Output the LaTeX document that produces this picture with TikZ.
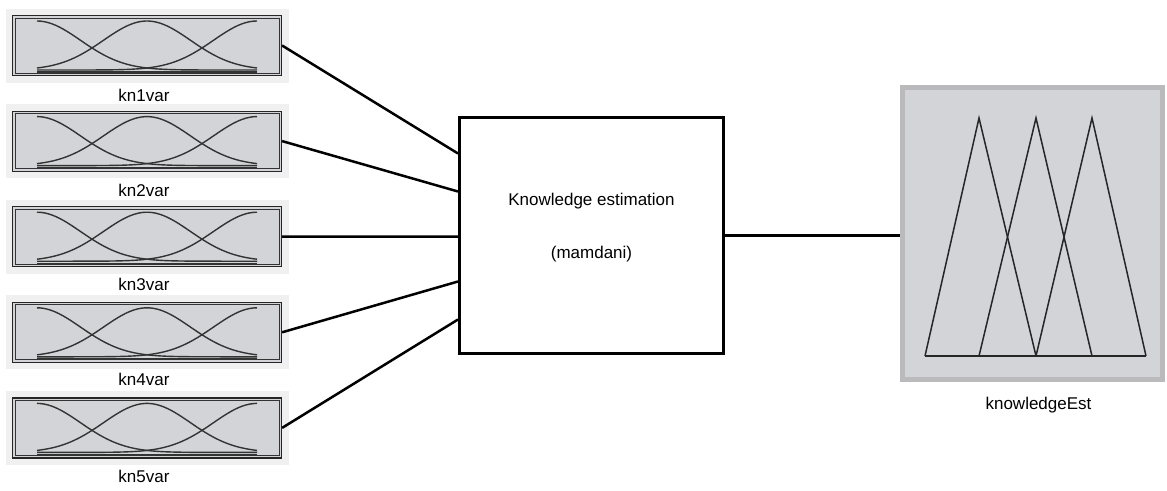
\documentclass[tikz,border=0pt]{standalone}
\usepackage{fontspec}
\setmainfont{Liberation Sans}
\usetikzlibrary{positioning}
\definecolor{mfgrey}{RGB}{211,212,216}
\definecolor{framegrey}{RGB}{186,186,188}
\definecolor{paleback}{RGB}{240,240,240}

\begin{document}
\begin{tikzpicture}[x=1pt,y=-1pt,node distance=95.6pt,on grid,
   every node/.style={font=\fontsize{17}{20}\selectfont},
   mfbox/.style={draw=black!85,line width=1.2pt,fill=mfgrey,minimum width=269pt,
      minimum height=60pt,inner sep=0pt,
      preaction={draw=paleback,line width=14pt},
      path picture={
         \begin{scope}[shift={(path picture bounding box.center)},line width=1.4pt,black!80]
            \draw [line width=0.8pt] (-132,-27.5) rectangle (132,27.5);
            \draw plot[domain=-110:110,samples=60,smooth] (\x,{24.5-49*exp(-((\x+110)/61.5)^2)});
            \draw plot[domain=-110:110,samples=60,smooth] (\x,{24.5-49*exp(-((\x)/61.5)^2)});
            \draw plot[domain=-110:110,samples=60,smooth] (\x,{24.5-49*exp(-((\x-110)/61.5)^2)});
            \draw (-110,26.5) -- (110,26.5);
         \end{scope}}},
   fisbox/.style={draw,line width=3pt,fill=white,minimum width=264pt,minimum height=236pt},
   outbox/.style={draw=framegrey,line width=5pt,fill=mfgrey,minimum width=260pt,minimum height=292pt,
      path picture={
         \begin{scope}[shift={(path picture bounding box.center)},line width=1.5pt,black!85]
            \draw (-107.5,122.5) -- (-53.5,-115.5) -- (3.5,122.5);
            \draw (-53.5,122.5) -- (3.5,-115.5) -- (59.5,122.5);
            \draw (3.5,122.5) -- (59.5,-115.5) -- (113.5,122.5);
            \draw (-107.5,122.5) -- (113.5,122.5);
         \end{scope}}},
   wire/.style={line width=2.5pt}]
   \useasboundingbox (0,0) rectangle (1167,490);

   % inputs
   \node [mfbox] (kn1) at (147,45.5) {};
   \node [mfbox] (kn2) [below=of kn1] {};
   \node [mfbox] (kn3) [below=of kn2] {};
   \node [mfbox] (kn4) [below=of kn3] {};
   \node [mfbox] (kn5) [below=of kn4] {};
   \node (kn1_lab) [below=49.5pt of kn1,xshift=-3pt] {kn1var};
   \node (kn2_lab) [below=49.5pt of kn2,xshift=-3pt] {kn2var};
   \node (kn3_lab) [below=48pt of kn3,xshift=-3pt] {kn3var};
   \node (kn4_lab) [below=47pt of kn4,xshift=-3pt] {kn4var};
   \node (kn5_lab) [below=49pt of kn5,xshift=-3pt] {kn5var};

   % system and output
   \node [fisbox] (fis) at (591.5,235.5)
      [label={[align=center,yshift=8pt]center:Knowledge estimation\\[33pt](mamdani)}] {};
   \node [outbox] (est) at (1032.5,233.5) {};
   \node (est_lab) [below=171.5pt of est,xshift=6pt] {knowledgeEst};

   \draw [wire] (kn1.east) -- ([yshift=82pt]fis.west);
   \draw [wire] (kn2.east) -- ([yshift=44pt]fis.west);
   \draw [wire] (kn3.east) -- ([yshift=-1pt]fis.west);
   \draw [wire] (kn4.east) -- ([yshift=-46pt]fis.west);
   \draw [wire] (kn5.east) -- ([yshift=-84pt]fis.west);
   \draw [wire] (fis.east) -- (fis.east -| est.west);
\end{tikzpicture}
\end{document}
